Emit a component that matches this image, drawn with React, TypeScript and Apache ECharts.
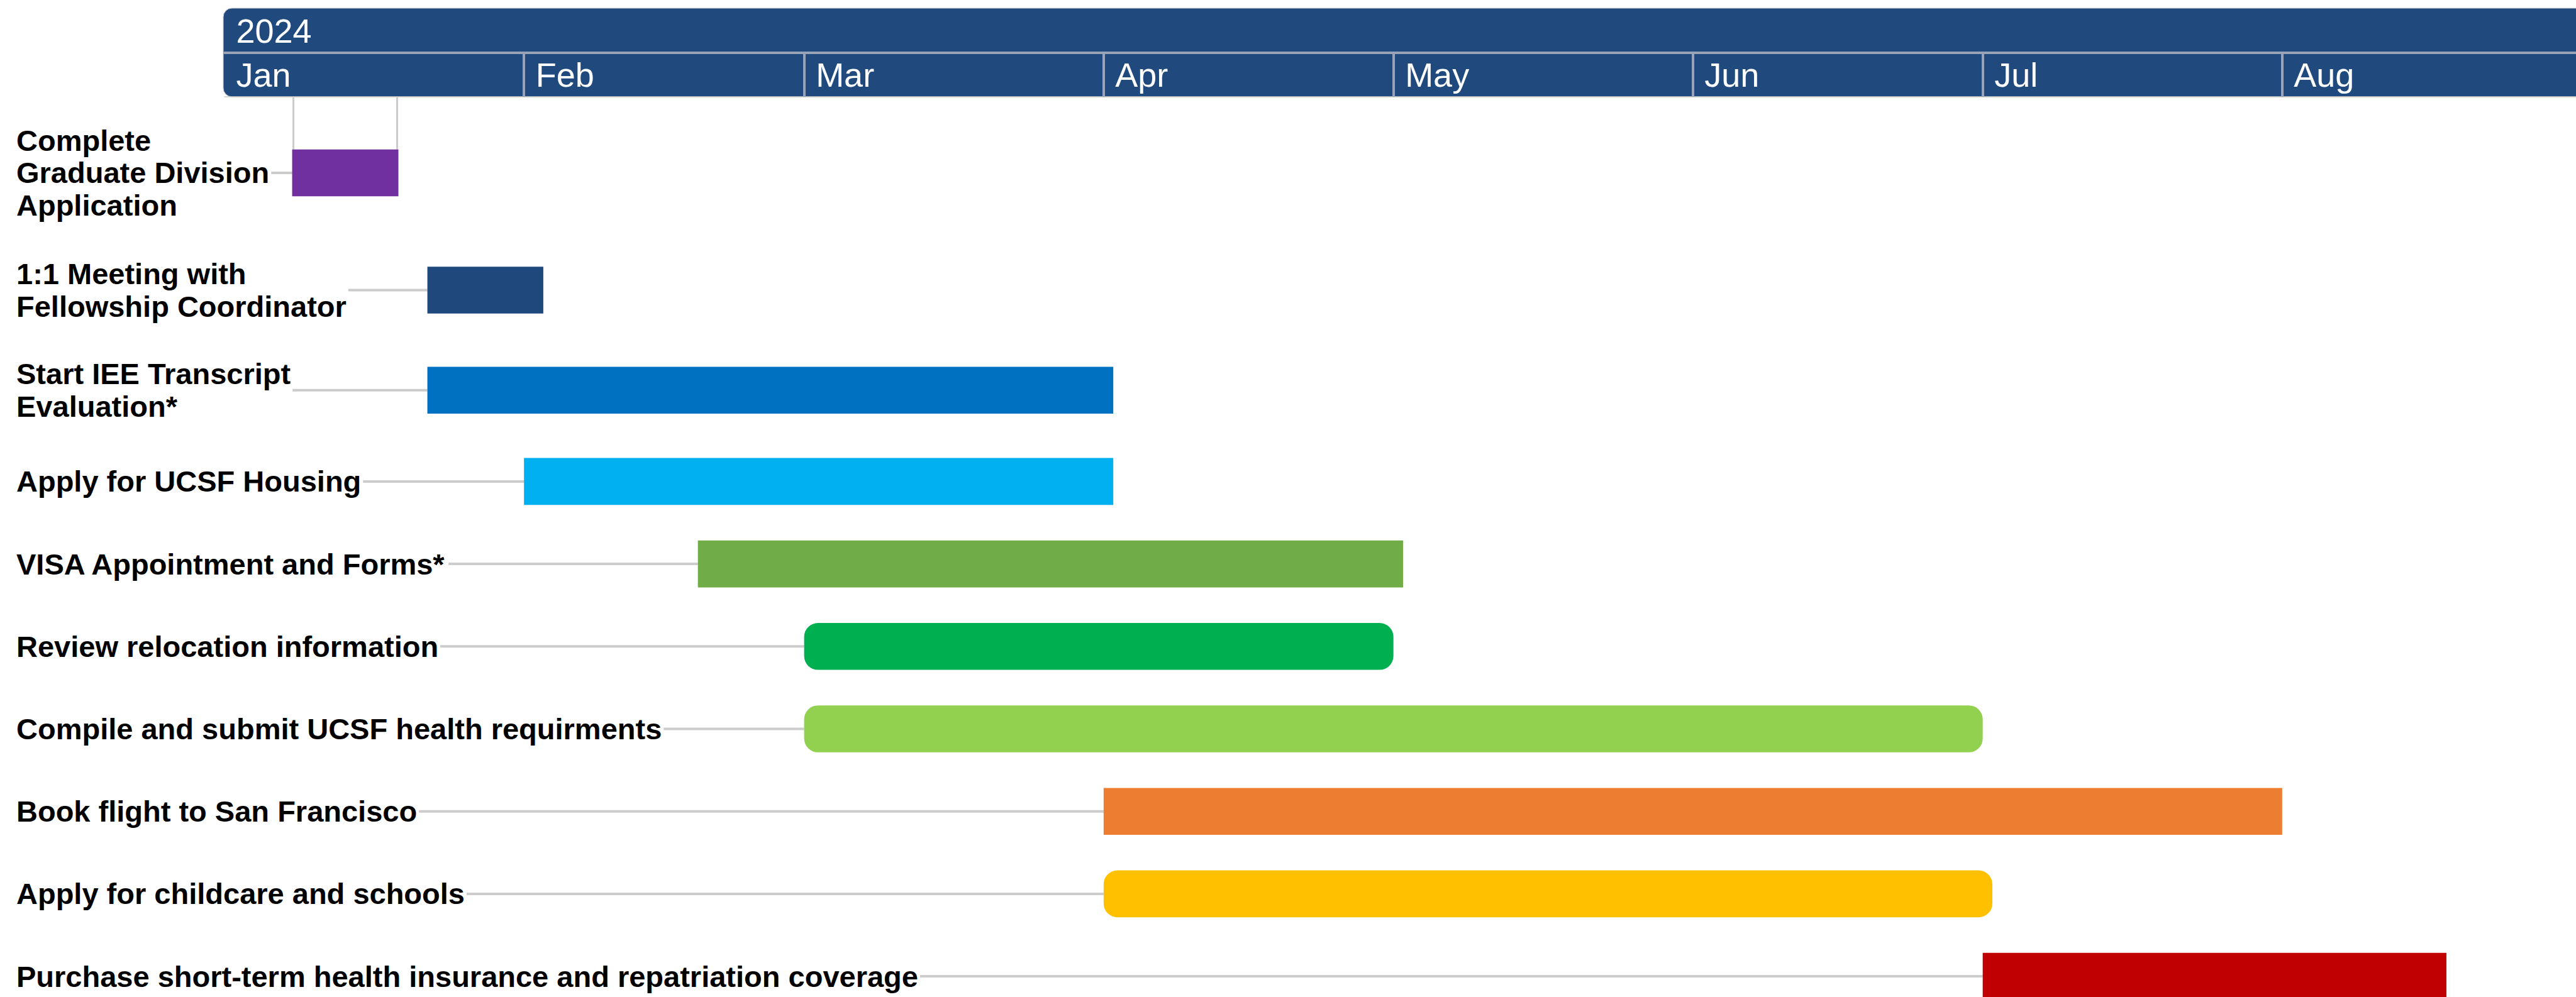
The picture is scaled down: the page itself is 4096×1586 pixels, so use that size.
import React, { useEffect, useRef } from "react";
import * as echarts from "echarts";

// ---------- data ----------
const taskNames = [
  "Complete\nGraduate Division\nApplication",
  "1:1 Meeting with\nFellowship Coordinator",
  "Start IEE Transcript\nEvaluation*",
  "Apply for UCSF Housing",
  "VISA Appointment and Forms*",
  "Review relocation information",
  "Compile and submit UCSF health requirments",
  "Book flight to San Francisco",
  "Apply for childcare and schools",
  "Purchase short-term health insurance and repatriation coverage",
];
const startDates = [
  "2024-01-08", "2024-01-22", "2024-01-22", "2024-02-01", "2024-02-19",
  "2024-03-01", "2024-03-01", "2024-04-01", "2024-04-01", "2024-07-01",
];
const endDates = [
  "2024-01-19", "2024-02-03", "2024-04-02", "2024-04-02", "2024-05-02",
  "2024-05-01", "2024-07-01", "2024-08-01", "2024-07-02", "2024-08-18",
];
const monthStarts = [
  "2024-01-01", "2024-02-01", "2024-03-01", "2024-04-01",
  "2024-05-01", "2024-06-01", "2024-07-01", "2024-08-01",
];
const monthLabels = ["Jan", "Feb", "Mar", "Apr", "May", "Jun", "Jul", "Aug"];
const yearStarts = ["2024-01-01"];
const yearLabels = ["2024"];
const axisStart = "2024-01-01";
const axisEnd = "2024-09-01";

// ---------- styles ----------
const barColors = [
  "#7030A0", "#1F497D", "#0070C0", "#00B0F0", "#70AD47",
  "#00B050", "#92D050", "#ED7D31", "#FFC000", "#C00000",
];
const roundedTasks = [5, 6, 8];
const guideTask = 0;

const W = 4096;
const H = 1586;
const CHART_W = 4105; // chart runs slightly past the right edge, as in the reference
const GRID_LEFT = 357;
const GRID_TOP = 154;
const HEADER_TOP = 13;
const DIVIDER_Y = 83.4;
const UNIT_PX = 131.2; // height of a single-line row
const TOP_PAD = 0.107; // units
const BAR_UNITS = 0.5687;
const LABEL_X = 26;
const LABEL_FONT = 'bold 47px "Liberation Sans", Arial, sans-serif';
const LABEL_LH = 51.6;
const HEADER_BG = "#204A7E";
const HEADER_LINE = "#99A3B8";
const GRID_GRAY = "#CCCCCC";

const t = (s: string) => Date.UTC(+s.slice(0, 4), +s.slice(5, 7) - 1, +s.slice(8, 10));

function rowHeightUnits(lines: number) {
  return Math.max(1, (lines * 88 + 80) / 211);
}

let measureCtx: CanvasRenderingContext2D | null = null;
function textWidth(s: string) {
  if (!measureCtx) {
    const c = document.createElement("canvas");
    measureCtx = c.getContext("2d");
  }
  if (!measureCtx) return s.length * 25;
  measureCtx.font = LABEL_FONT;
  return measureCtx.measureText(s).width;
}

function labelFor(starts: string[], labels: string[]) {
  const ts = starts.map(t);
  return (v: number) => {
    let best = -1;
    let bd = Infinity;
    ts.forEach((x, k) => {
      const d = Math.abs(x - v);
      if (d < bd) {
        bd = d;
        best = k;
      }
    });
    return best >= 0 && bd < 3600000 ? labels[best] : "";
  };
}

export default function App() {
  const ref = useRef<HTMLDivElement>(null);
  useEffect(() => {
    if (!ref.current) return;
    const chart = echarts.init(ref.current, null, { renderer: "svg" });

    const centers: number[] = [];
    let acc = TOP_PAD;
    taskNames.forEach((n) => {
      const h = rowHeightUnits(n.split("\n").length);
      centers.push(acc + h / 2);
      acc += h;
    });
    const yMax = (H - GRID_TOP) / UNIT_PX;

    const labelWidths = taskNames.map((n) =>
      Math.max(...n.split("\n").map((l) => textWidth(l)))
    );

    const data = taskNames.map((n, i) => [t(startDates[i]), t(endDates[i]), centers[i], i]);

    const headerLabel = {
      show: true,
      color: "#FFFFFF",
      fontFamily: '"Liberation Sans", Arial, sans-serif',
      fontSize: 54,
      align: "left",
      verticalAlign: "middle",
      padding: [0, 0, 0, 18.5],
    };

    const option: any = {
      animation: false,
      backgroundColor: "#FFFFFF",
      grid: { left: GRID_LEFT, right: 0, top: GRID_TOP, bottom: 0 },
      xAxis: [
        {
          type: "value",
          position: "top",
          min: t(axisStart),
          max: t(axisEnd),
          axisLine: { show: true, lineStyle: { color: GRID_GRAY, width: 1.5 } },
          axisTick: {
            show: true,
            inside: false,
            length: GRID_TOP - DIVIDER_Y,
            customValues: monthStarts.slice(1).map(t),
            lineStyle: { color: HEADER_LINE, width: 4 },
          },
          axisLabel: {
            ...headerLabel,
            customValues: monthStarts.map(t),
            formatter: labelFor(monthStarts, monthLabels),
            margin: 35,
          },
          splitLine: { show: false },
        },
        {
          type: "value",
          position: "top",
          offset: GRID_TOP - DIVIDER_Y,
          min: t(axisStart),
          max: t(axisEnd),
          axisLine: { show: true, lineStyle: { color: HEADER_LINE, width: 4 } },
          axisTick: { show: false },
          axisLabel: {
            ...headerLabel,
            customValues: yearStarts.map(t),
            formatter: labelFor(yearStarts, yearLabels),
            margin: 34,
          },
          splitLine: { show: false },
        },
      ],
      yAxis: {
        type: "value",
        inverse: true,
        min: 0,
        max: yMax,
        show: false,
        splitLine: { show: false },
      },
      graphic: [
        {
          type: "rect",
          z: -10,
          shape: {
            x: GRID_LEFT - 2,
            y: HEADER_TOP,
            width: CHART_W - GRID_LEFT + 40,
            height: GRID_TOP - HEADER_TOP,
            r: [14, 0, 0, 14],
          },
          style: { fill: HEADER_BG, stroke: "#C8C8C8", lineWidth: 1 },
        },
      ],
      series: [
        {
          type: "custom",
          xAxisIndex: 0,
          yAxisIndex: 0,
          clip: false,
          encode: { x: [0, 1], y: 2 },
          data,
          renderItem: (params: any, api: any) => {
            const i = api.value(3);
            const yv = api.value(2);
            const p0 = api.coord([api.value(0), yv]);
            const p1 = api.coord([api.value(1), yv]);
            const bh = api.size([0, BAR_UNITS])[1];
            const top = p0[1] - bh / 2;
            const rounded = roundedTasks.indexOf(i) >= 0;
            const children: any[] = [];
            const lineStart = LABEL_X + labelWidths[i] + 3;
            children.push({
              type: "line",
              shape: { x1: lineStart, y1: p0[1], x2: p0[0], y2: p0[1] },
              style: { stroke: GRID_GRAY, lineWidth: 4 },
            });
            if (i === guideTask) {
              const gy = params.coordSys.y;
              [p0[0] + 2, p1[0] - 2].forEach((gx) =>
                children.push({
                  type: "line",
                  shape: { x1: gx, y1: gy, x2: gx, y2: top },
                  style: { stroke: GRID_GRAY, lineWidth: 3 },
                })
              );
            }
            children.push({
              type: "rect",
              shape: {
                x: p0[0],
                y: top,
                width: p1[0] - p0[0],
                height: bh,
                r: rounded ? 22 : 0,
              },
              style: { fill: barColors[i] },
            });
            children.push({
              type: "text",
              x: LABEL_X,
              y: p0[1],
              style: {
                text: taskNames[i],
                font: LABEL_FONT,
                fill: "#000000",
                align: "left",
                verticalAlign: "middle",
                lineHeight: LABEL_LH,
              },
            });
            return { type: "group", children };
          },
        },
      ],
    };
    chart.setOption(option);
    return () => chart.dispose();
  }, []);
  return (
    <div
      style={{
        position: "absolute",
        left: 0,
        top: 0,
        width: W,
        height: H,
        overflow: "hidden",
      }}
    >
      <div ref={ref} style={{ width: CHART_W, height: H }} />
    </div>
  );
}
